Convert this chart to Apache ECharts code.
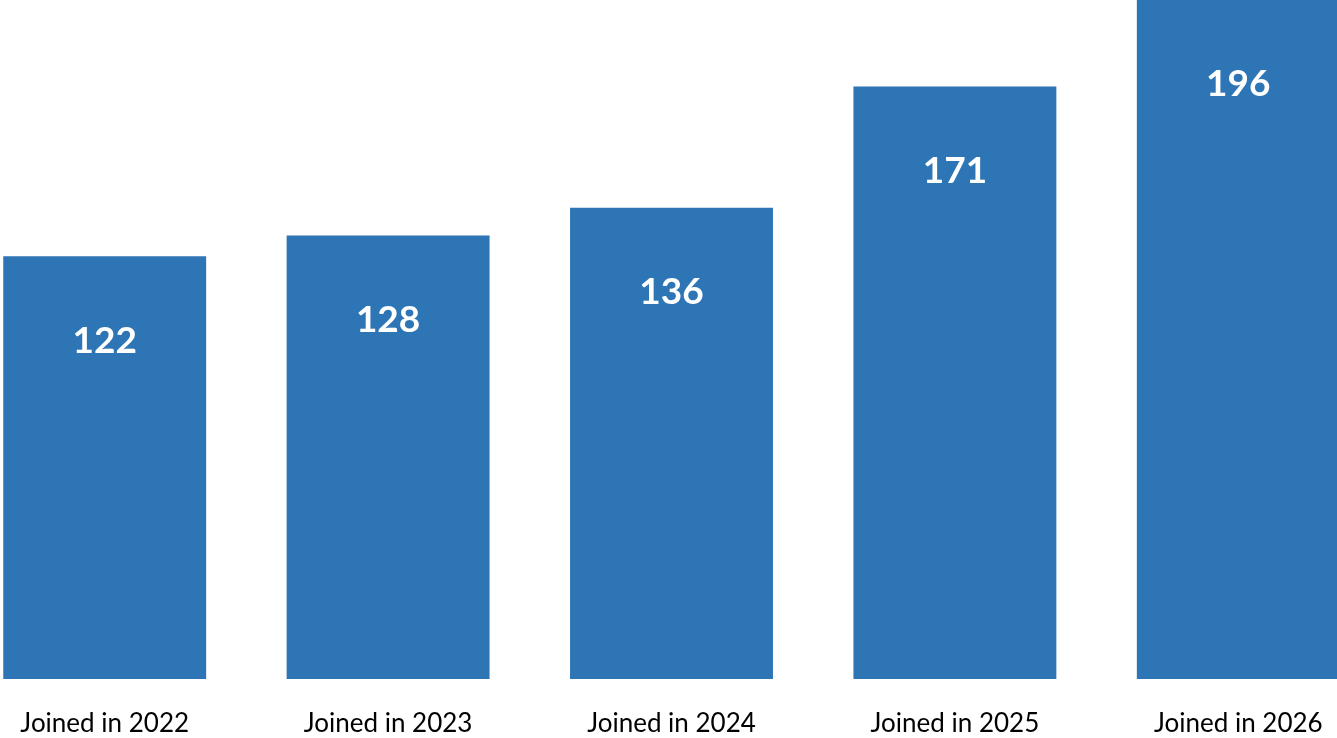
<!DOCTYPE html>
<html><head><meta charset="utf-8">
<script src="https://cdn.jsdelivr.net/npm/echarts@6/dist/echarts.min.js"></script>
<style>html,body{margin:0;padding:0;background:#fff}#c{width:1337px;height:738px}</style>
</head><body><div id="c"></div>
<script>
const categories = ["Joined in 2022","Joined in 2023","Joined in 2024","Joined in 2025","Joined in 2026"];
const values = [122,128,136,171,196];
const chart = echarts.init(document.getElementById('c'), null, {renderer:'canvas'});
chart.setOption({
  animation:false,
  backgroundColor:'#ffffff',
  grid:{left:-37,right:-43,top:0,bottom:59,containLabel:false,outerBoundsMode:'none'},
  xAxis:{type:'category',data:categories,axisLine:{show:false},axisTick:{show:false},
    axisLabel:{color:'#000',fontFamily:'Lato',fontSize:26,margin:32,interval:0}},
  yAxis:{type:'value',min:0,max:196,show:false,splitLine:{show:false}},
  series:[{type:'bar',data:values,barCategoryGap:'28.4%',itemStyle:{color:'#2E75B6'},
    label:{show:true,position:'insideTop',distance:66,color:'#fff',fontFamily:'Lato',fontWeight:'bold',fontSize:37}}]
});
</script></body></html>
